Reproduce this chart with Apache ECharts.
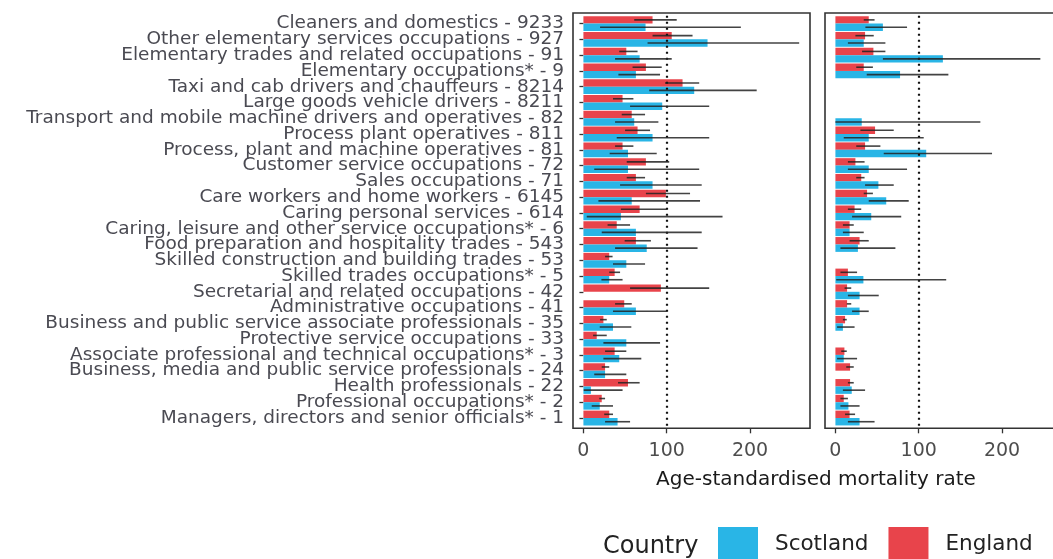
<!DOCTYPE html>
<html lang="en">
<head>
<meta charset="utf-8" />
<title>Age-standardised mortality rate by occupation</title>
<script src="https://cdn.jsdelivr.net/npm/echarts@6/dist/echarts.min.js"></script>
<style>
  html, body { margin: 0; padding: 0; background: #fff; }
  #main { width: 1053px; height: 559px; }
</style>
</head>
<body>
<div id="main"></div>
<script>
// occupations, top to bottom
var occupations = [
  'Cleaners and domestics', 'Other elementary services occupations', 'Elementary trades and related occupations',
  'Elementary occupations*', 'Taxi and cab drivers and chauffeurs', 'Large goods vehicle drivers',
  'Transport and mobile machine drivers and operatives', 'Process plant operatives', 'Process, plant and machine operatives',
  'Customer service occupations', 'Sales occupations', 'Care workers and home workers', 'Caring personal services',
  'Caring, leisure and other service occupations*', 'Food preparation and hospitality trades',
  'Skilled construction and building trades', 'Skilled trades occupations*', 'Secretarial and related occupations',
  'Administrative occupations', 'Business and public service associate professionals', 'Protective service occupations',
  'Associate professional and technical occupations*', 'Business, media and public service professionals',
  'Health professionals', 'Professional occupations*', 'Managers, directors and senior officials*'
];
var codes = ['9233', '927', '91', '9', '8214', '8211', '82', '811', '81', '72', '71', '6145', '614',
  '6', '543', '53', '5', '42', '41', '35', '33', '3', '24', '22', '2', '1'];

// left panel
var engLeft   = [83, 106, 51.5, 75, 119, 47, 58, 65, 47, 75, 63, 99, 67.5, 40, 63, 31, 37.5, 93, 49, 24, 16, 37.5, 26, 53.5, 22, 31];
var engLeftLo = [61, 83, 43, 59, 98, 35.5, 46, 50, 38, 52, 52, 75, 45, 29, 49.5, 26, 31, 56, 38, 20, 11.6, 26, 22, 41.5, 19, 25];
var engLeftHi = [112, 131, 65, 94, 139, 60, 74, 80, 60, 103, 74, 128, 100, 56, 81, 35, 44, 151, 58, 28, 28, 51.5, 31, 67.5, 26, 35.5];
var scoLeft   = [74.6, 149, 67.5, 63, 133, 94.6, 61, 83, 53.5, 53.5, 83, 58, 45, 63, 76, 51.5, 31, null, 63, 35.5, 51.5, 43, 26, 9, 19.6, 41];
var scoLeftLo = [20, 77, 38, 42, 79, 56, 38, 40, 31.5, 13, 44, 18, 4, 22, 38, 35.5, 21.6, null, 35.5, 19.6, 24, 24, 13, 0.4, 10, 26];
var scoLeftHi = [189, 259, 106, 92, 208, 151, 90, 151, 88, 139, 142, 140, 167, 142, 137, 74, 47, null, 100, 57.5, 92, 69.5, 51.5, 47, 35.5, 56];

// right panel
var engRight   = [40, 35.6, 45.6, 34, null, null, null, 47.6, 35.6, 24, 31, 38, 23, 17, 29, null, 15, 14, 14, 11.6, null, 10.8, 17.6, 17.6, 10, 17];
var engRightLo = [34, 24, 32, 25, null, null, null, 30, 25, 15, 25, 34, 15, 9, 17, null, 6, 11, 13.6, 9, null, 7, 13, 15, 6, 11.6];
var engRightHi = [47, 46, 60, 45, null, null, null, 70, 54, 35, 35, 45, 31, 22, 40, null, 26, 19, 19, 13.6, null, 13.6, 22, 22, 15, 23.6];
var scoRight   = [57, 34, 129, 77.6, null, null, 31.6, 40, 109, 40, 51.6, 61, 43, 17, 27, null, 33.6, 29, 29, 9, null, 10, null, 19.6, 15.6, 29];
var scoRightLo = [36, 15, 57, 37.6, null, null, 0, 10, 58, 15, 35.6, 40, 20, 9, 6, null, 1, 15, 20, 2, null, 2, null, 9, 6, 15];
var scoRightHi = [86, 60, 246, 135.6, null, null, 174, 106, 188, 86, 70, 88, 79, 34, 72, null, 133, 52, 40, 23, null, 26, null, 35.6, 29, 47];

var xTicks = [0, 100, 200];

var RED = '#E8444B';
var BLUE = '#29B5E6';
var BAR_FILL = 0.94;
var FONT = 'DejaVu Sans';

var labels = occupations.map(function (o, i) { return o + ' - ' + codes[i]; });

function errData(lo, hi) {
  var out = [];
  for (var i = 0; i < lo.length; i++) {
    if (lo[i] != null) out.push([lo[i], hi[i], i]);
  }
  return out;
}

function errRender(side) {
  return function (params, api) {
    var c = api.value(2);
    var p1 = api.coord([api.value(0), c]);
    var p2 = api.coord([api.value(1), c]);
    var band = api.size([0, 1])[1];
    var dy = side * band * BAR_FILL / 4;
    return {
      type: 'line',
      shape: { x1: p1[0], y1: p1[1] + dy, x2: p2[0], y2: p2[1] + dy },
      style: { stroke: '#222', lineWidth: 1.6, opacity: 0.85 }
    };
  };
}

function panelSeries(k, eng, sco, engLo, engHi, scoLo, scoHi) {
  return [
    { type: 'bar', name: 'England', xAxisIndex: k, yAxisIndex: k, data: eng,
      itemStyle: { color: RED }, barGap: '0%', barCategoryGap: ((1 - BAR_FILL) * 100) + '%' },
    { type: 'bar', name: 'Scotland', xAxisIndex: k, yAxisIndex: k, data: sco,
      itemStyle: { color: BLUE }, barGap: '0%', barCategoryGap: ((1 - BAR_FILL) * 100) + '%',
      markLine: {
        silent: true, symbol: 'none', label: { show: false },
        lineStyle: { type: [2, 4], color: '#111', width: 2.2 },
        data: [{ xAxis: 100 }]
      }
    },
    { type: 'custom', xAxisIndex: k, yAxisIndex: k, renderItem: errRender(-1),
      encode: { x: [0, 1], y: 2 }, data: errData(engLo, engHi), z: 5 },
    { type: 'custom', xAxisIndex: k, yAxisIndex: k, renderItem: errRender(1),
      encode: { x: [0, 1], y: 2 }, data: errData(scoLo, scoHi), z: 5 }
  ];
}

function valueAxis(k) {
  return {
    type: 'value', gridIndex: k, min: -12.5, max: 272, position: 'bottom', offset: 2.4,
    axisLine: { show: false },
    splitLine: { show: false },
    axisTick: { show: true, length: 5, customValues: xTicks, lineStyle: { color: '#333', width: 1.3 } },
    axisLabel: { customValues: xTicks, color: '#4d4d4d', fontSize: 19, fontFamily: FONT, margin: 13 }
  };
}

var chart = echarts.init(document.getElementById('main'));

var option = {
  animation: false,
  backgroundColor: '#fff',
  grid: [
    { left: 573, top: 15.7, width: 237, height: 410.2, outerBoundsMode: 'none' },
    { left: 825, top: 15.7, width: 237, height: 410.2, outerBoundsMode: 'none' },
    { left: 573, top: 13, width: 237, height: 415.3, outerBoundsMode: 'none',
      show: true, borderColor: '#333', borderWidth: 1.6, backgroundColor: 'transparent' },
    { left: 825, top: 13, width: 237, height: 415.3, outerBoundsMode: 'none',
      show: true, borderColor: '#333', borderWidth: 1.6, backgroundColor: 'transparent' }
  ],
  xAxis: [
    valueAxis(0),
    valueAxis(1),
    { type: 'value', gridIndex: 2, show: false },
    { type: 'value', gridIndex: 3, show: false }
  ],
  yAxis: [
    { type: 'category', gridIndex: 0, data: labels, inverse: true,
      axisLine: { show: false },
      axisTick: { show: true, length: 4, alignWithLabel: true, lineStyle: { color: '#333', width: 1.3 } },
      axisLabel: { color: '#4a4a52', fontSize: 18.5, fontFamily: FONT, margin: 9, interval: 0 } },
    { type: 'category', gridIndex: 1, data: labels, inverse: true,
      axisLine: { show: false }, axisTick: { show: false }, axisLabel: { show: false } },
    { type: 'value', gridIndex: 2, show: false },
    { type: 'value', gridIndex: 3, show: false }
  ],
  legend: {
    data: ['Scotland', 'England'],
    left: 718, top: 527, padding: 0,
    icon: 'rect',
    itemWidth: 40, itemHeight: 35, itemGap: 20,
    textStyle: { fontFamily: FONT, fontSize: 21.5, color: '#222', padding: [0, 0, 0, 12] }
  },
  graphic: [
    { type: 'text', left: 603, top: 535,
      style: { text: 'Country', font: '24px "DejaVu Sans"', fill: '#222' } },
    { type: 'text', x: 816, y: 480,
      style: { text: 'Age-standardised mortality rate', font: '20px "DejaVu Sans"', fill: '#1a1a1a',
               align: 'center', verticalAlign: 'middle' } }
  ],
  series: [].concat(
    panelSeries(0, engLeft, scoLeft, engLeftLo, engLeftHi, scoLeftLo, scoLeftHi),
    panelSeries(1, engRight, scoRight, engRightLo, engRightHi, scoRightLo, scoRightHi)
  )
};

chart.setOption(option);
</script>
</body>
</html>
